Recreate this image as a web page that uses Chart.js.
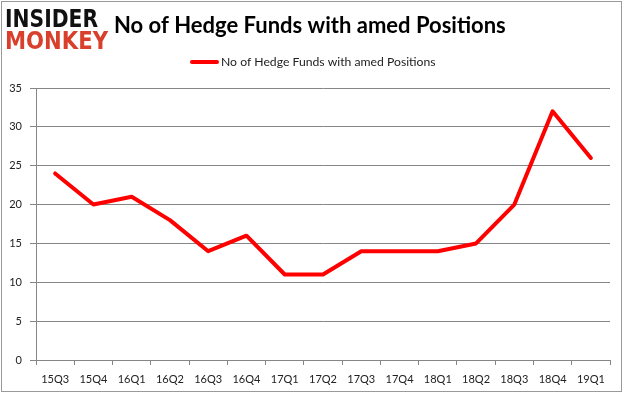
<!DOCTYPE html>
<html>
<head>
<meta charset="utf-8">
<script src="https://cdn.jsdelivr.net/npm/chart.js@4.4.1/dist/chart.umd.min.js"></script>
<style>
  html, body { margin: 0; padding: 0; background: #fff; }
  #wrap { width: 625px; height: 395px; position: relative; }
</style>
</head>
<body>
<div id="wrap"><canvas id="chart" width="625" height="395"></canvas></div>
<script>
// ===== dados =====
const titulo = "No of Hedge Funds with amed Positions";
const rotuloSerie = "No of Hedge Funds with amed Positions";
const trimestres = ["15Q3", "15Q4", "16Q1", "16Q2", "16Q3", "16Q4", "17Q1", "17Q2",
  "17Q3", "17Q4", "18Q1", "18Q2", "18Q3", "18Q4", "19Q1"];
const fundos = [24, 20, 21, 18, 14, 16, 11, 11, 14, 14, 14, 15, 20, 32, 26];
const eixoY = { min: 0, max: 35, passo: 5 };

const CINZA = "#868686";
const VERMELHO = "#ff0000";

// desenha logo, titulo, legenda e moldura
const extras = {
  id: "extras",
  afterDraw(chart) {
    const ctx = chart.ctx;
    ctx.save();

    // moldura
    ctx.strokeStyle = "#9a9a9a";
    ctx.lineWidth = 1;
    ctx.strokeRect(1.5, 1.5, 620, 390);

    // logo
    function textoLargura(txt, x, yBase, larg, fonte, cor) {
      ctx.font = fonte;
      ctx.fillStyle = cor;
      ctx.textAlign = "left";
      ctx.textBaseline = "alphabetic";
      const w = ctx.measureText(txt).width;
      ctx.save();
      ctx.translate(x, yBase);
      ctx.scale(larg / w, 1);
      ctx.fillText(txt, 0, 0);
      ctx.restore();
    }
    textoLargura("INSIDER", 5, 26.5, 93, "bold 25px 'DejaVu Sans'", "#111");
    textoLargura("MONKEY", 5, 48.5, 103, "bold 25px 'DejaVu Sans'", "#d8402b");

    // titulo
    ctx.font = "bold 22px Lato";
    ctx.fillStyle = "#000";
    ctx.textBaseline = "alphabetic";
    ctx.textAlign = "left";
    ctx.fillText(titulo, 114, 33);

    // legenda
    ctx.strokeStyle = VERMELHO;
    ctx.lineWidth = 4;
    ctx.lineCap = "round";
    ctx.beginPath();
    ctx.moveTo(192, 62);
    ctx.lineTo(217, 62);
    ctx.stroke();
    ctx.font = "12.2px Lato";
    ctx.fillStyle = "#222";
    ctx.textBaseline = "middle";
    ctx.fillText(rotuloSerie, 221, 62);

    ctx.restore();
  }
};

new Chart(document.getElementById("chart"), {
  type: "line",
  data: {
    labels: trimestres,
    datasets: [{
      label: rotuloSerie,
      data: fundos,
      borderColor: VERMELHO,
      backgroundColor: VERMELHO,
      borderWidth: 4,
      pointRadius: 0,
      tension: 0,
      borderJoinStyle: "round",
      borderCapStyle: "round"
    }]
  },
  options: {
    responsive: false,
    animation: false,
    layout: { padding: { left: 0, top: 88, right: 15, bottom: 0 } },
    plugins: {
      legend: { display: false },
      title: { display: false },
      tooltip: { enabled: false }
    },
    scales: {
      x: {
        offset: true,
        grid: {
          offset: true,
          drawOnChartArea: false,
          drawTicks: true,
          tickLength: 5,
          color: CINZA
        },
        border: { display: true, color: CINZA },
        ticks: {
          color: "#222",
          font: { family: "Lato", size: 11 },
          padding: 8,
          maxRotation: 0,
          autoSkip: false
        },
        afterFit: (s) => { s.height = 35; }
      },
      y: {
        min: eixoY.min,
        max: eixoY.max,
        grid: {
          color: CINZA,
          tickLength: 6
        },
        border: { display: true, color: CINZA },
        ticks: {
          stepSize: eixoY.passo,
          color: "#222",
          font: { family: "Lato", size: 11 },
          padding: 8
        },
        afterFit: (s) => { s.width = 36; }
      }
    }
  },
  plugins: [extras]
});
</script>
</body>
</html>
